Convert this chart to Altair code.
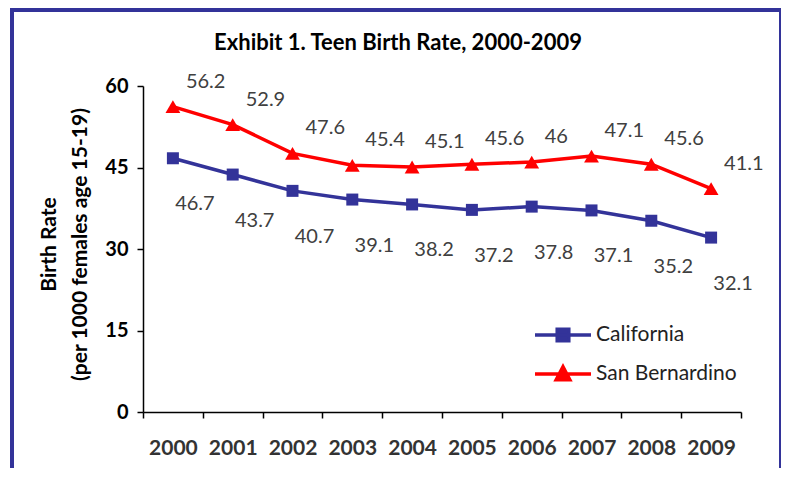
import altair as alt
import pandas as pd

# ---- data ----
years = [2000, 2001, 2002, 2003, 2004, 2005, 2006, 2007, 2008, 2009]
california = [46.7, 43.7, 40.7, 39.1, 38.2, 37.2, 37.8, 37.1, 35.2, 32.1]
san_bernardino = [56.2, 52.9, 47.6, 45.4, 45.1, 45.6, 46, 47.1, 45.6, 41.1]
series_names = ["California", "San Bernardino"]
series_colors = ["#333399", "#FF0000"]
y_ticks = [0, 15, 30, 45, 60]
title_text = "Exhibit 1. Teen Birth Rate, 2000-2009"
y_title = ["Birth Rate", "(per 1000 females age 15-19)"]

rows = []
for name, vals in zip(series_names, [california, san_bernardino]):
    for yr, v in zip(years, vals):
        rows.append({"year": yr, "rate": v, "series": name, "label": f"{v:g}"})
df = pd.DataFrame(rows)

FONT = "Lato"
W, H = 598, 326

x_scale = alt.Scale(domain=[years[0] - 0.5, years[-1] + 0.5], nice=False, zero=False)
y_scale = alt.Scale(domain=[0, 60], nice=False)
color_scale = alt.Scale(domain=series_names, range=series_colors)

x_tick_axis = alt.Axis(
    orient="bottom",
    values=[yr - 0.5 for yr in years] + [years[-1] + 0.5],
    labels=False, ticks=True, tickSize=6, tickColor="black", tickWidth=1.5,
    domain=True, domainColor="black", domainWidth=1.5, grid=False, title=None,
)
x_label_axis = alt.Axis(
    orient="bottom",
    values=years, format="d", ticks=False, domain=False, grid=False,
    labelFont=FONT, labelFontSize=21, labelFontWeight="bold", labelColor="#333333",
    labelPadding=25, title=None,
)
y_axis = alt.Axis(
    values=y_ticks, tickSize=6, tickColor="black", tickWidth=1.5,
    domainColor="black", domainWidth=1.5, grid=False,
    labelFont=FONT, labelFontSize=20, labelFontWeight="bold", labelColor="black",
    labelPadding=9,
    title=y_title, titleFont=FONT, titleFontSize=21, titleFontWeight="bold",
    titleColor="black", titleLineHeight=31, titleBaseline="middle",
    titleX=-94, titleY=158,
)

# legend symbols: a line segment with the series marker on it
legend_paths = [
    "M-2.8,0H2.8M-0.58,-0.58H0.58V0.58H-0.58Z",
    "M-2.8,0H2.8M0,-0.72L0.68,0.58H-0.68Z",
]
leg = alt.Legend(
    title=None, orient="none", legendX=408, legendY=237, padding=0,
    symbolSize=400, symbolStrokeWidth=3.5, symbolOpacity=1,
    labelFont=FONT, labelFontSize=21, labelColor="#222222", labelOffset=21,
    rowPadding=11,
)

base = alt.Chart(df)
Y = alt.Y("rate:Q", scale=y_scale, axis=y_axis)

frame = alt.Chart(pd.DataFrame({"k": [0]})).mark_rect(
    filled=False, stroke="#333399", strokeWidth=4
).encode(
    x=alt.value(-131), x2=alt.value(638), y=alt.value(-76), y2=alt.value(520)
)

lines = base.mark_line(strokeWidth=3.5).encode(
    x=alt.X("year:Q", scale=x_scale, axis=x_tick_axis),
    y=Y,
    color=alt.Color("series:N", scale=color_scale, legend=None),
)

ca_points = base.transform_filter(alt.datum.series == series_names[0]).mark_point(
    filled=True, opacity=1, shape="square", size=144, color=series_colors[0]
).encode(
    x=alt.X("year:Q", scale=x_scale, axis=x_label_axis),
    y=Y,
)

sb_points = base.transform_filter(alt.datum.series == series_names[1]).mark_point(
    filled=True, opacity=1, shape="triangle-up", size=220, color=series_colors[1]
).encode(
    x=alt.X("year:Q", scale=x_scale, axis=None),
    y=Y,
)

sb_labels = base.transform_filter(alt.datum.series == series_names[1]).mark_text(
    align="left", baseline="middle", dx=13, dy=-25, font=FONT, fontSize=20, color="#404040"
).encode(
    x=alt.X("year:Q", scale=x_scale, axis=None),
    y=Y,
    text="label:N",
)

ca_labels = base.transform_filter(alt.datum.series == series_names[0]).mark_text(
    align="center", baseline="middle", dx=22, dy=46, font=FONT, fontSize=20, color="#404040"
).encode(
    x=alt.X("year:Q", scale=x_scale, axis=None),
    y=Y,
    text="label:N",
)

legend_layer = alt.Chart(df).transform_filter("false").mark_point(filled=True, opacity=1).encode(
    fill=alt.Fill("series:N", scale=alt.Scale(domain=series_names, range=series_colors), legend=leg),
    stroke=alt.Stroke("series:N", scale=alt.Scale(domain=series_names, range=series_colors), legend=leg),
    shape=alt.Shape("series:N", scale=alt.Scale(domain=series_names, range=legend_paths), legend=leg),
)

chart = alt.layer(frame, lines, ca_points, sb_points, sb_labels, ca_labels, legend_layer).resolve_scale(
    shape="independent", fill="independent", stroke="independent"
).resolve_axis(
    x="independent"
).properties(
    width=W, height=H,
    title=alt.TitleParams(
        title_text, font=FONT, fontSize=22, fontWeight="bold", color="black",
        anchor="middle", frame="group", baseline="alphabetic", dx=-44, offset=-64,
    ),
    autosize=alt.AutoSizeParams(type="none"),
    padding={"left": 135, "top": 78, "right": 40, "bottom": 56},
    background="white",
).configure_view(stroke=None)

chart.save("out.html", embed_options={"renderer": "svg", "actions": False})
